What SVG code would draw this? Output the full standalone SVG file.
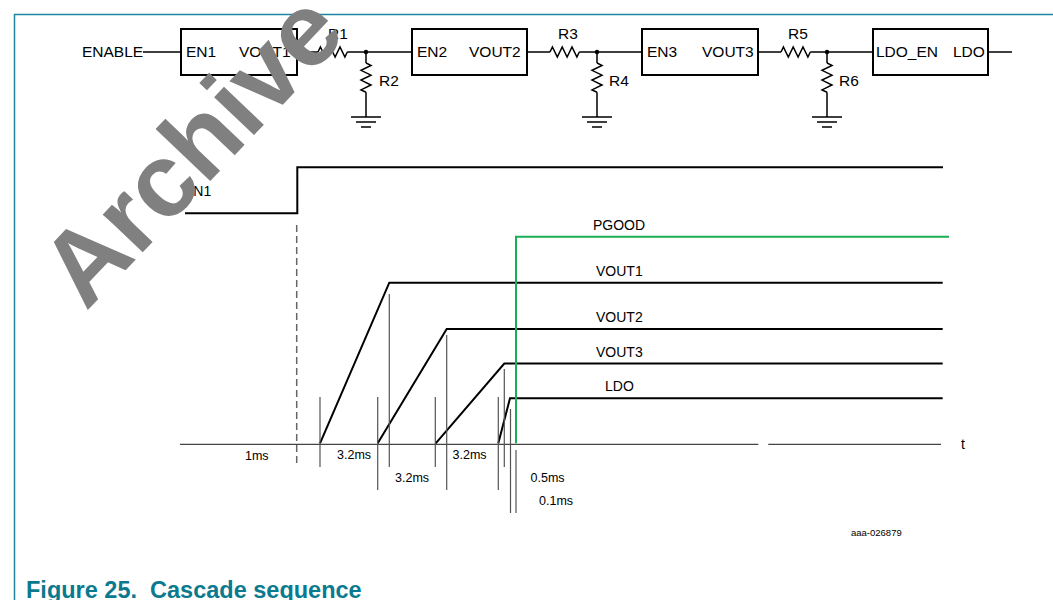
<svg xmlns="http://www.w3.org/2000/svg" xmlns:xlink="http://www.w3.org/1999/xlink" width="1053" height="600" viewBox="0 0 1053 600">
<defs>
<style>
.w{fill:none;stroke:#000;stroke-width:1.5}
.bx{fill:#fff;stroke:#000;stroke-width:2}
.ct{font-family:"Liberation Sans",Arial,sans-serif;font-size:15.5px;fill:#000}
.tl{font-family:"Liberation Sans",Arial,sans-serif;font-size:14px;fill:#000}
.ms{font-family:"Liberation Sans",Arial,sans-serif;font-size:12.5px;fill:#000}
.wave{fill:none;stroke:#000;stroke-width:2}
.mk{fill:none;stroke:#555;stroke-width:1.2}
.ax{fill:none;stroke:#444;stroke-width:1.2}
</style>
<path id="rh" class="w" d="M0,0 l2.4,-5 l4.9,10 l4.9,-10 l4.9,10 l4.9,-10 l4.9,10 l2.4,-5"/>
<path id="rv" class="w" d="M0,0 l5,2.4 l-10,4.9 l10,4.9 l-10,4.9 l10,4.9 l-10,4.9 l5,2.4"/>
<g id="gnd" class="w"><path d="M-15,0 H15 M-10,5 H10 M-5,10 H5"/></g>
</defs>
<rect x="0" y="0" width="1053" height="600" fill="#fff"/>
<path d="M14.5,600 V14.5 H1053" fill="none" stroke="#1f86a0" stroke-width="1.5"/>

<g id="connectors">
<path class="w" d="M143,52 H181 M297,52 H318 M347.3,52 H412 M527,52 H550 M579.3,52 H642 M758,52 H781 M810.3,52 H873 M988,52 H1012"/>
<path class="w" d="M366,52 V63 M366,92.3 V117 M597,52 V63 M597,92.3 V117 M827,52 V63 M827,92.3 V117"/>
</g>

<g id="enable"><text class="ct" x="82" y="57">ENABLE</text></g>
<g id="box1"><rect class="bx" x="181" y="29" width="116" height="46"/><text class="ct" x="186" y="57">EN1</text><text class="ct" x="239" y="57">VOUT1</text></g>
<g id="box2"><rect class="bx" x="412" y="29" width="115" height="46"/><text class="ct" x="417" y="57">EN2</text><text class="ct" x="469" y="57">VOUT2</text></g>
<g id="box3"><rect class="bx" x="642" y="29" width="116" height="46"/><text class="ct" x="647" y="57">EN3</text><text class="ct" x="702" y="57">VOUT3</text></g>
<g id="box4"><rect class="bx" x="873" y="29" width="115" height="46"/><text class="ct" x="876" y="57">LDO_EN</text><text class="ct" x="953" y="57">LDO</text></g>

<g id="R1"><use xlink:href="#rh" x="318" y="52"/><text class="ct" x="328" y="39">R1</text></g>
<g id="R2"><use xlink:href="#rv" x="366" y="63"/><text class="ct" x="379" y="86">R2</text><circle cx="366" cy="52" r="2.2"/><use xlink:href="#gnd" x="366" y="117"/></g>
<g id="R3"><use xlink:href="#rh" x="550" y="52"/><text class="ct" x="558" y="39">R3</text></g>
<g id="R4"><use xlink:href="#rv" x="597" y="63"/><text class="ct" x="609" y="86">R4</text><circle cx="597" cy="52" r="2.2"/><use xlink:href="#gnd" x="597" y="117"/></g>
<g id="R5"><use xlink:href="#rh" x="781" y="52"/><text class="ct" x="788" y="39">R5</text></g>
<g id="R6"><use xlink:href="#rv" x="827" y="63"/><text class="ct" x="839" y="86">R6</text><circle cx="827" cy="52" r="2.2"/><use xlink:href="#gnd" x="827" y="117"/></g>

<g id="timing">
<path d="M296.7,225 V467" fill="none" stroke="#666" stroke-width="1.5" stroke-dasharray="7,4"/>
<path class="ax" d="M180,444.3 H758.3 M768.3,444.3 H941"/>
<text class="tl" x="961" y="449">t</text>
<path class="wave" d="M185,213.3 H297.3 V167.3 H943"/>
<text class="tl" x="184" y="196">EN1</text>
<path class="wave" d="M320,443.3 L389.3,282.7 H942.7"/>
<text class="tl" x="596" y="276">VOUT1</text>
<path class="wave" d="M377.7,443.3 L446.7,329 H942.7"/>
<text class="tl" x="596" y="322">VOUT2</text>
<path class="wave" d="M435.7,443.3 L504.3,363.5 H942.7"/>
<text class="tl" x="596" y="357">VOUT3</text>
<path class="wave" d="M498.3,443.3 L510,398.3 H942.7"/>
<text class="tl" x="605" y="391">LDO</text>
<path class="mk" d="M320,397 V467 M377.7,397 V490 M389.3,294 V467 M435.3,397 V467 M446.7,335 V490 M498.3,397 V490 M504.3,369 V467 M510.5,409 V513 M516,450 V513"/>
<path d="M516,443.3 V236.7 H949" fill="none" stroke="#1aaf54" stroke-width="2"/>
<text class="tl" x="593" y="230">PGOOD</text>
<text class="ms" x="245" y="460">1ms</text>
<text class="ms" x="337" y="459">3.2ms</text>
<text class="ms" x="395" y="482">3.2ms</text>
<text class="ms" x="452.5" y="459">3.2ms</text>
<text class="ms" x="530.5" y="482">0.5ms</text>
<text class="ms" x="539" y="505">0.1ms</text>
</g>

<text x="851" y="536" font-family="Liberation Sans, Arial, sans-serif" font-size="9.5" fill="#000">aaa-026879</text>
<text x="26" y="598" font-family="Liberation Sans, Arial, sans-serif" font-size="23.5" font-weight="bold" fill="#0b7a8f" xml:space="preserve">Figure 25.  Cascade sequence</text>

<text transform="translate(86,312) rotate(-46.5)" font-family="Liberation Sans, Arial, sans-serif" font-size="104" font-weight="bold" fill="#808080">Archive</text>
</svg>
